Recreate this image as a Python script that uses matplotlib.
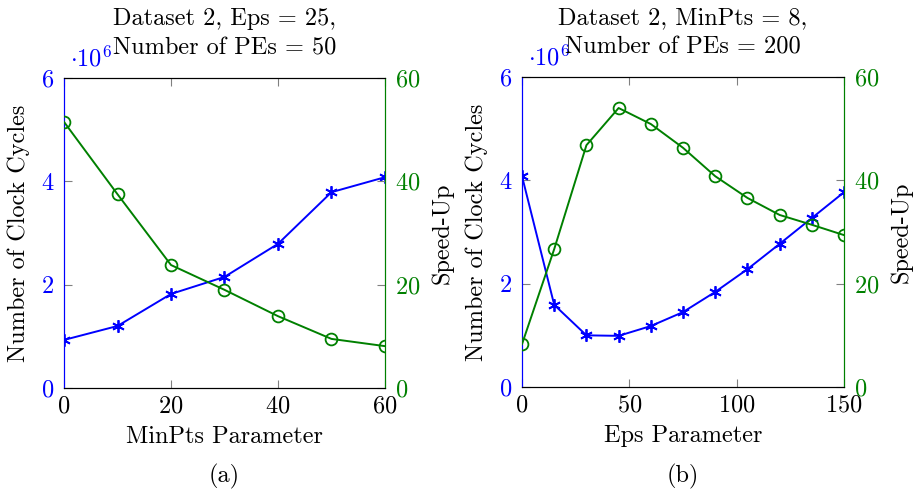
import matplotlib
matplotlib.use("Agg")
import matplotlib.pyplot as plt

plt.rcParams['font.family'] = 'serif'
plt.rcParams['font.serif'] = ['cmr10']
plt.rcParams['mathtext.fontset'] = 'cm'
plt.rcParams['axes.formatter.use_mathtext'] = True

# Panel (a)
minpts = [0, 10, 20, 30, 40, 50, 60]
cycles_a = [0.93, 1.20, 1.82, 2.15, 2.79, 3.79, 4.08]  # x 1e6
speedup_a = [51.5, 37.5, 23.8, 19.0, 13.9, 9.5, 8.1]

# Panel (b)
eps = [0, 15, 30, 45, 60, 75, 90, 105, 120, 135, 150]
cycles_b = [4.08, 1.59, 1.00, 0.99, 1.18, 1.45, 1.84, 2.28, 2.77, 3.27, 3.77]
speedup_b = [8.3, 26.7, 46.8, 54.0, 50.9, 46.3, 40.8, 36.6, 33.3, 31.4, 29.4]

titles = ["Dataset 2, Eps = 25,\nNumber of PEs = 50",
          "Dataset 2, MinPts = 8,\nNumber of PEs = 200"]
xlabels = ["MinPts Parameter", "Eps Parameter"]
sublabels = ["(a)", "(b)"]
xticks = [[0, 20, 40, 60], [0, 50, 100, 150]]
xlims = [(0, 60), (0, 150)]

BLUE = (0, 0, 1)
GREEN = (0, 0.5, 0)
FS = 17.5

fig = plt.figure(figsize=(9.21, 4.94), dpi=100)
positions = [[0.0695, 0.2146, 0.3485, 0.6275], [0.5668, 0.2166, 0.3496, 0.6275]]
data = [(minpts, cycles_a, speedup_a), (eps, cycles_b, speedup_b)]

for i in range(2):
    x, cyc, spd = data[i]
    ax = fig.add_axes(positions[i])
    ax2 = ax.twinx()
    ax.plot(x, cyc, color=BLUE, lw=1.4, marker=(6, 2, 0), ms=9, mew=1.3, zorder=3)
    ax2.plot(x, spd, color=GREEN, lw=1.4, marker='o', ms=8.5, mfc='none', mew=1.3, zorder=3)
    ax.set_xlim(*xlims[i])
    ax.set_ylim(0, 6)
    ax2.set_ylim(0, 60)
    ax.set_xticks(xticks[i])
    ax.set_yticks([0, 2, 4, 6])
    ax2.set_yticks([0, 20, 40, 60])
    ax.tick_params(axis='x', direction='in', top=True, labelsize=FS, color='gray', length=6, pad=5)
    ax.tick_params(axis='y', direction='in', labelsize=FS, labelcolor=BLUE, color='gray', length=6, pad=7)
    ax2.tick_params(axis='y', direction='in', labelsize=FS, labelcolor=GREEN, color='gray', length=6, pad=7)
    for a in (ax, ax2):
        a.spines['left'].set_color(BLUE)
        a.spines['right'].set_color(GREEN)
        a.spines['top'].set_color('black')
        a.spines['bottom'].set_color('black')
    ax.set_ylabel("Number of Clock Cycles", fontsize=FS, labelpad=8)
    ax2.set_ylabel("Speed-Up", fontsize=FS, labelpad=8)
    ax.set_xlabel(xlabels[i], fontsize=FS, labelpad=6)
    ax.set_title(titles[i], fontsize=FS, linespacing=1.4, pad=17)
    ax.text(0.02, 1.02, r'$\cdot 10^{6}$', transform=ax.transAxes, color=BLUE,
            fontsize=FS, ha='left', va='bottom')
    pos = positions[i]
    fig.text(pos[0] + pos[2] / 2, 1 - 476 / 494, sublabels[i], fontsize=FS,
             ha='center', va='center')

fig.savefig("out.png", dpi=100)
